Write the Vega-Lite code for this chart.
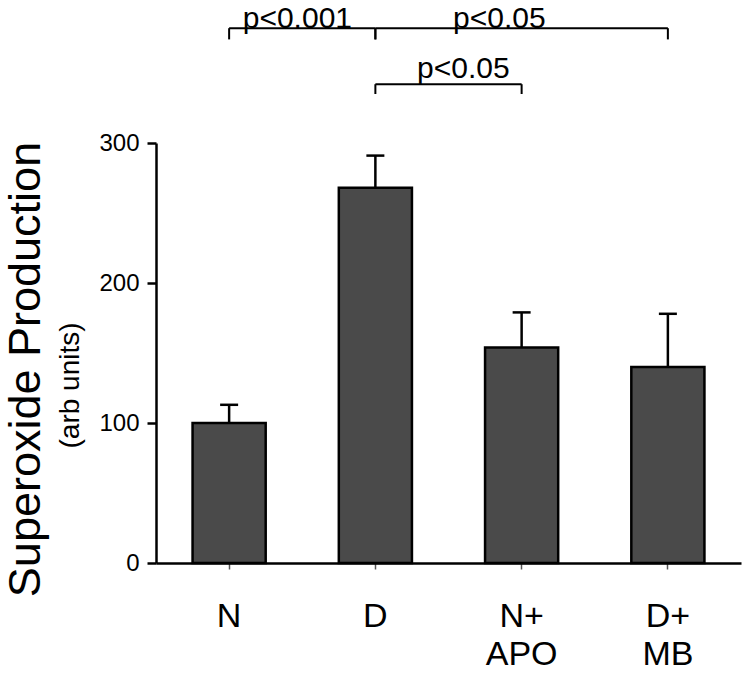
{
  "$schema": "https://vega.github.io/schema/vega-lite/v6.json",
  "width": 585,
  "height": 420,
  "padding": {"left": 3, "top": 4, "right": 5, "bottom": 5},
  "background": "white",
  "datasets": {
    "bars": [
      {"group": "N", "value": 100, "upper": 113},
      {"group": "D", "value": 268, "upper": 291},
      {"group": "N+APO", "value": 154, "upper": 179},
      {"group": "D+MB", "value": 140, "upper": 178}
    ],
    "brackets": [
      {"id": 1, "from": "N", "to": "D", "top": 382, "bottom": 374, "label": "p<0.001"},
      {"id": 2, "from": "D", "to": "D+MB", "top": 382, "bottom": 374, "label": "p<0.05"},
      {"id": 3, "from": "D", "to": "N+APO", "top": 342, "bottom": 335, "label": "p<0.05"}
    ]
  },
  "layer": [
    {
      "layer": [
        {
          "data": {"name": "bars"},
          "mark": {"type": "bar", "fill": "#4a4a4a", "stroke": "black", "strokeWidth": 2.5},
          "encoding": {
            "x": {
              "field": "group", "type": "nominal", "sort": null,
              "scale": {"paddingInner": 0.5, "paddingOuter": 0.25},
              "axis": {
                "title": null, "labelAngle": 0,
                "labelFontSize": 34, "labelFont": "Liberation Sans", "labelColor": "black",
                "labelPadding": 30, "labelLineHeight": 38, "labelBaseline": "top",
                "labelExpr": "datum.label == 'N+APO' ? ['N+', 'APO'] : datum.label == 'D+MB' ? ['D+', 'MB'] : datum.label",
                "domainColor": "black", "domainWidth": 2.5,
                "tickColor": "#555", "tickSize": 6, "tickWidth": 1.5
              }
            },
            "y": {
              "field": "value", "type": "quantitative",
              "scale": {"domain": [0, 300], "nice": false},
              "axis": {
                "title": "(arb units)", "titleFontSize": 28, "titleFont": "Liberation Sans",
                "titleFontWeight": "normal", "titleColor": "black", "titlePadding": 14, "titleY": 242,
                "values": [0, 100, 200, 300], "grid": false,
                "labelFontSize": 24, "labelFont": "Liberation Sans", "labelColor": "black", "labelPadding": 8,
                "domainColor": "black", "domainWidth": 2.5,
                "tickColor": "black", "tickSize": 9, "tickWidth": 2.5
              }
            }
          }
        },
        {
          "data": {"name": "bars"},
          "mark": {"type": "rule", "stroke": "black", "strokeWidth": 2.5},
          "encoding": {
            "x": {"field": "group", "type": "nominal", "sort": null},
            "y": {"field": "value", "type": "quantitative"},
            "y2": {"field": "upper"}
          }
        },
        {
          "data": {"name": "bars"},
          "mark": {"type": "tick", "orient": "horizontal", "color": "black", "size": 18, "thickness": 2.5, "opacity": 1},
          "encoding": {
            "x": {"field": "group", "type": "nominal", "sort": null},
            "y": {"field": "upper", "type": "quantitative"}
          }
        },
        {
          "data": {"name": "brackets"},
          "mark": {"type": "rule", "stroke": "black", "strokeWidth": 2, "clip": false},
          "encoding": {
            "x": {"field": "from", "type": "nominal", "sort": null},
            "x2": {"field": "to"},
            "y": {"field": "top", "type": "quantitative"}
          }
        },
        {
          "data": {"name": "brackets"},
          "mark": {"type": "rule", "stroke": "black", "strokeWidth": 2, "clip": false},
          "encoding": {
            "x": {"field": "from", "type": "nominal", "sort": null},
            "y": {"field": "top", "type": "quantitative"},
            "y2": {"field": "bottom"}
          }
        },
        {
          "data": {"name": "brackets"},
          "mark": {"type": "rule", "stroke": "black", "strokeWidth": 2, "clip": false},
          "encoding": {
            "x": {"field": "to", "type": "nominal", "sort": null},
            "y": {"field": "top", "type": "quantitative"},
            "y2": {"field": "bottom"}
          }
        },
        {
          "data": {"name": "brackets"},
          "transform": [{"filter": "datum.id == 1"}],
          "mark": {"type": "text", "font": "Liberation Sans", "fontSize": 30, "baseline": "alphabetic", "align": "center", "dx": -78, "dy": 0, "color": "black"},
          "encoding": {
            "x": {"field": "to", "type": "nominal", "sort": null},
            "y": {"field": "top", "type": "quantitative"},
            "text": {"field": "label"}
          }
        },
        {
          "data": {"name": "brackets"},
          "transform": [{"filter": "datum.id == 2"}],
          "mark": {"type": "text", "font": "Liberation Sans", "fontSize": 30, "baseline": "alphabetic", "align": "center", "dx": 124, "dy": 0, "color": "black"},
          "encoding": {
            "x": {"field": "from", "type": "nominal", "sort": null},
            "y": {"field": "top", "type": "quantitative"},
            "text": {"field": "label"}
          }
        },
        {
          "data": {"name": "brackets"},
          "transform": [{"filter": "datum.id == 3"}],
          "mark": {"type": "text", "font": "Liberation Sans", "fontSize": 30, "baseline": "alphabetic", "align": "center", "dx": 88, "dy": -6, "color": "black"},
          "encoding": {
            "x": {"field": "from", "type": "nominal", "sort": null},
            "y": {"field": "top", "type": "quantitative"},
            "text": {"field": "label"}
          }
        }
      ]
    },
    {
      "data": {"name": "bars"},
      "mark": {"type": "tick", "opacity": 0},
      "encoding": {
        "y": {
          "field": "value", "type": "quantitative",
          "scale": {"domain": [0, 300], "nice": false},
          "axis": {
            "orient": "left", "title": "Superoxide Production", "offset": 104, "titleY": 226,
            "titleFontSize": 45, "titleFont": "Liberation Sans", "titleFontWeight": "normal",
            "titleColor": "black", "titlePadding": 4,
            "labels": false, "ticks": false, "domain": false, "grid": false
          }
        }
      }
    }
  ],
  "resolve": {"scale": {"y": "independent"}},
  "config": {"view": {"stroke": null}}
}
